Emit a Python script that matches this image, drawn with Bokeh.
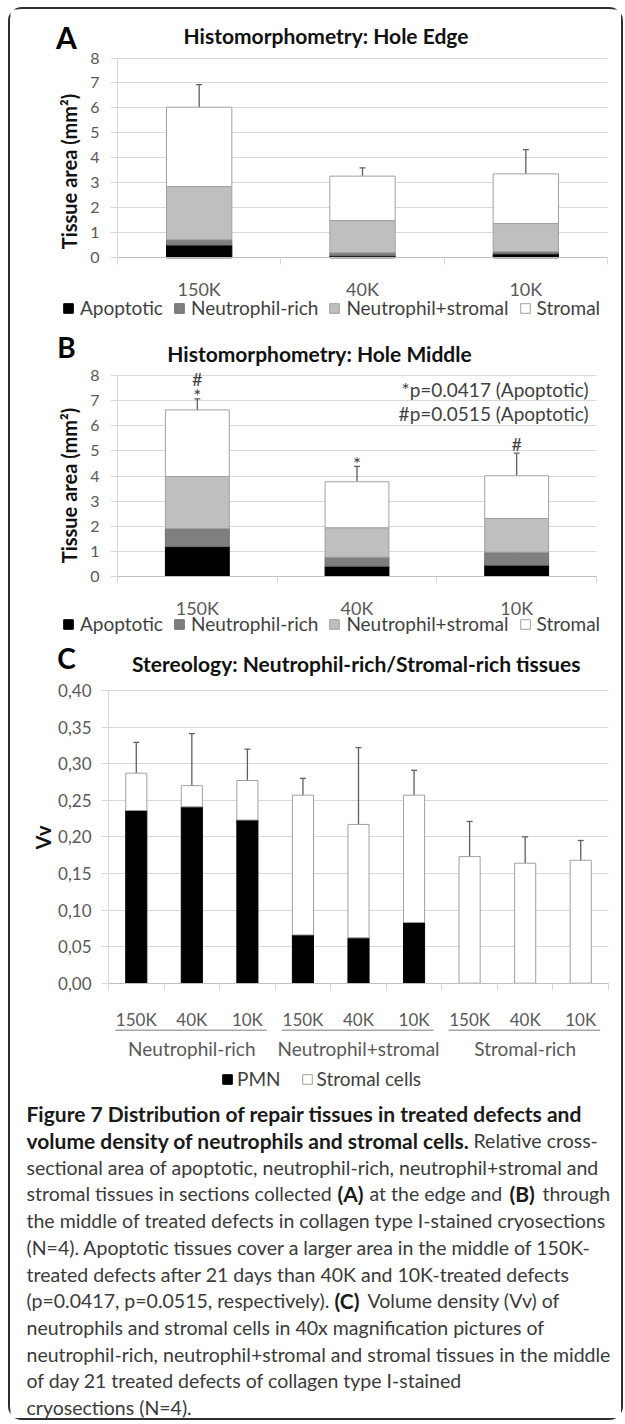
import numpy as np
from bokeh.plotting import figure
from bokeh.models import (ColumnDataSource, Range1d, FixedTicker, Whisker, TeeHead, Label,
                          CustomJSTickFormatter, LinearAxis, Grid)
from bokeh.layouts import column
from bokeh.transform import dodge
from bokeh.core.properties import value
from bokeh.embed import file_html
from bokeh.resources import INLINE

# ---------------- data ----------------
conc = ["150K", "40K", "10K"]
series = ["Apoptotic", "Neutrophil-rich", "Neutrophil+stromal", "Stromal"]
area_ticks = [0, 1, 2, 3, 4, 5, 6, 7, 8]

# (A) Hole edge, tissue area (mm2)
edge_apoptotic = [0.51, 0.08, 0.16]
edge_neutrophil_rich = [0.21, 0.12, 0.09]
edge_neutrophil_stromal = [2.13, 1.29, 1.12]
edge_stromal = [3.18, 1.78, 1.99]
edge_err_apoptotic = [0.94, 0.24, 0.33]
edge_err_neutrophil_rich = [0.36, 0.12, 0.15]
edge_err_neutrophil_stromal = [1.44, 1.56, 0.68]
edge_err_stromal = [0.90, 0.33, 0.97]

# (B) Hole middle, tissue area (mm2)
mid_apoptotic = [1.19, 0.41, 0.45]
mid_neutrophil_rich = [0.72, 0.36, 0.52]
mid_neutrophil_stromal = [2.07, 1.17, 1.34]
mid_stromal = [2.65, 1.83, 1.70]
mid_err_apoptotic = [0.48, 0.47, 0.45]
mid_err_neutrophil_rich = [0.42, 0.33, 0.62]
mid_err_neutrophil_stromal = [1.40, 0.95, 0.98]
mid_err_stromal = [0.44, 0.61, 0.90]
mid_star = ["*", "*", ""]
mid_hash = ["#", "", "#"]
p_value_notes = ["*p=0.0417 (Apoptotic)", "#p=0.0515 (Apoptotic)"]

# (C) Stereology, volume density
tissue_groups = ["Neutrophil-rich", "Neutrophil+stromal", "Stromal-rich"]
cell_series = ["PMN", "Stromal cells"]
vv_pmn = [0.236, 0.241, 0.223, 0.066, 0.062, 0.083, 0.0, 0.0, 0.0]
vv_stromal = [0.051, 0.029, 0.054, 0.191, 0.155, 0.174, 0.173, 0.164, 0.168]
vv_err_pmn = [0.048, 0.029, 0.028, 0.021, 0.054, 0.021, None, None, None]
vv_err_total = [0.042, 0.071, 0.043, 0.023, 0.105, 0.034, 0.048, 0.036, 0.027]
vv_ticks = [0.0, 0.05, 0.10, 0.15, 0.20, 0.25, 0.30, 0.35, 0.40]

caption_lines = [
    [("Figure 7 Distribution of repair tissues in treated defects and", True)],
    [("volume density of neutrophils and stromal cells.", True), ("Relative cross-", False)],
    [("sectional area of apoptotic, neutrophil-rich, neutrophil+stromal and", False)],
    [("stromal tissues in sections collected", False), ("(A)", True), ("at the edge and", False),
     ("(B)", True), ("through", False)],
    [("the middle of treated defects in collagen type I-stained cryosections", False)],
    [("(N=4). Apoptotic tissues cover a larger area in the middle of 150K-", False)],
    [("treated defects after 21 days than 40K and 10K-treated defects", False)],
    [("(p=0.0417, p=0.0515, respectively).", False), ("(C)", True), ("Volume density (Vv) of", False)],
    [("neutrophils and stromal cells in 40x magnification pictures of", False)],
    [("neutrophil-rich, neutrophil+stromal and stromal tissues in the middle", False)],
    [("of day 21 treated defects of collagen type I-stained", False)],
    [("cryosections (N=4).", False)],
]
caption_x = [[16], [16, 463], [16], [16, 327, 359, 499, 532], [16], [16], [16],
             [16, 324, 357], [16], [16], [16], [16]]

# ---------------- style ----------------
FONT = "Lato"
W = 611
GRID = "#d9d9d9"
AXIS = "#bfbfbf"
ERR = "#5f5f5f"
TICK_TXT = "#595959"
LEG_TXT = "#3f3f3f"
BAR_FILL = ["#000000", "#7f7f7f", "#bfbfbf", "#ffffff"]
BAR_LINE = ["#000000", "#6f6f6f", "#a0a0a0", "#a0a0a0"]
HAS_CROSS = "cross_bounds" in Grid.properties()


def base_figure(n, height, cl, cr, top_px, zero_px, ytop):
    cw = (cr - cl) / n
    x_lo, x_hi = -cl / cw, n + (W - cr) / cw
    k = (zero_px - top_px) / ytop
    y_hi = ytop + top_px / k
    y_lo = -(height - zero_px) / k
    p = figure(x_range=Range1d(x_lo, x_hi), y_range=Range1d(y_lo, y_hi), width=W,
               height=height, output_backend="svg", toolbar_location=None, title=None,
               min_border=0, outline_line_color=None)
    p.xgrid.visible = False
    if HAS_CROSS:
        p.ygrid.cross_bounds = (0, n)
        p.ygrid.grid_line_color = GRID
    else:
        p.ygrid.visible = False

    def dx(px):
        return (px - cl) / cw

    def dy(py):
        return y_hi - py / k
    return p, dx, dy, k


def style_yaxis(p, ticks, n, size, standoff, formatter=None):
    ya = p.yaxis[0]
    ya.fixed_location = 0
    ya.bounds = (ticks[0], ticks[-1])
    ya.ticker = FixedTicker(ticks=ticks)
    if formatter is not None:
        ya.formatter = formatter
    ya.axis_line_color = GRID
    ya.axis_line_width = 1.2
    ya.major_tick_line_color = GRID
    ya.major_tick_out = 7
    ya.major_tick_in = 0
    ya.minor_tick_line_color = None
    ya.minor_tick_out = 0
    ya.minor_tick_in = 0
    ya.major_label_standoff = standoff
    ya.major_label_text_font = FONT
    ya.major_label_text_font_size = size
    ya.major_label_text_color = TICK_TXT
    if not HAS_CROSS:
        p.segment(x0=[0] * len(ticks), y0=ticks, x1=[n] * len(ticks), y1=ticks,
                  line_color=GRID)


def style_xaxis(p, labels, size, standoff):
    n = len(labels)
    xa = p.xaxis[0]
    xa.fixed_location = 0
    xa.bounds = (0, n)
    xa.ticker = FixedTicker(ticks=[i + 0.5 for i in range(n)], minor_ticks=list(range(n + 1)))
    xa.formatter = CustomJSTickFormatter(args=dict(cats=labels),
                                         code="return cats[Math.round(tick - 0.5)];")
    xa.axis_line_color = AXIS
    xa.axis_line_width = 1.2
    xa.major_tick_line_color = None
    xa.major_tick_out = 0
    xa.major_tick_in = 0
    xa.minor_tick_line_color = GRID
    xa.minor_tick_out = 7
    xa.minor_tick_in = 0
    xa.major_label_standoff = standoff
    xa.major_label_text_font = FONT
    xa.major_label_text_font_size = size
    xa.major_label_text_color = TICK_TXT


def style_legend(lg, x, y, spacing, standoff, size):
    lg.location = (x, y)
    lg.orientation = "horizontal"
    lg.background_fill_alpha = 0
    lg.border_line_color = None
    lg.padding = 0
    lg.margin = 0
    lg.spacing = spacing
    lg.label_standoff = standoff
    lg.glyph_width = 12
    lg.glyph_height = 12
    lg.label_height = 20
    lg.label_text_font = FONT
    lg.label_text_font_size = size
    lg.label_text_color = LEG_TXT


def text_label(p, x, y, txt, size, bold=False, align="center", angle=0, color="#111111"):
    p.add_layout(Label(x=x, y=y, text=txt, text_align=align, text_baseline="middle",
                       angle=angle, angle_units="deg", text_font=FONT,
                       text_font_style="bold" if bold else "normal",
                       text_font_size=size, text_color=color))


def stacked_panel(letter, title, layers, errs, err_dodge, height, cl, cr, top_px, zero_px,
                  letter_xy, letter_size, title_xy, ylabel_xy, legend_xy,
                  star=None, hsh=None, notes=None, notes_xy=None):
    n = len(conc)
    p, dx, dy, k = base_figure(n, height, cl, cr, top_px, zero_px, area_ticks[-1])
    xc = [i + 0.5 for i in range(n)]
    keys = ["a", "b", "c", "d"]
    data = dict(x=xc, cat=conc)
    for key, arr in zip(keys, layers):
        data[key] = arr
    src = ColumnDataSource(data)
    p.vbar_stack(keys, x="x", width=0.4, source=src, fill_color=BAR_FILL,
                 line_color=BAR_LINE, line_width=1, legend_label=series)

    cum = np.cumsum(np.array(layers, dtype=float), axis=0)
    for i in range(len(layers)):
        lo = cum[i]
        hi = cum[i] + np.array(errs[i])
        es = ColumnDataSource(dict(x=xc, lower=list(lo), upper=list(hi)))
        base = dodge("x", err_dodge[i]) if err_dodge[i] else "x"
        p.add_layout(Whisker(base=base, lower="lower", upper="upper", source=es,
                             dimension="height", line_color=ERR, line_width=1.3,
                             lower_head=None,
                             upper_head=TeeHead(size=6, line_color=ERR, line_width=1.3)))
    total_top = cum[-1] + np.array(errs[-1])

    style_yaxis(p, area_ticks, n, "16px", 11)
    style_xaxis(p, conc, "18px", 13)

    if star is not None:
        sx, sy, st_txt, hx, hy, h_txt = [], [], [], [], [], []
        for x, s, h, t in zip(xc, star, hsh, total_top):
            if s:
                sx.append(x); sy.append(t + 0.12); st_txt.append(s)
            if h:
                hx.append(x); hy.append(t + (0.78 if s else 0.36)); h_txt.append(h)
        p.text(x=sx, y=sy, text=st_txt, text_align="center", text_baseline="middle",
               text_font=value(FONT), text_font_size="19px", text_color=LEG_TXT)
        p.text(x=hx, y=hy, text=h_txt, text_align="center", text_baseline="middle",
               text_font=value(FONT), text_font_size="18px", text_color=LEG_TXT)
    if notes is not None:
        for txt, (nx, ny) in zip(notes, notes_xy):
            text_label(p, dx(nx), dy(ny), txt, "19px", align="right", color=LEG_TXT)

    text_label(p, dx(letter_xy[0]), dy(letter_xy[1]), letter, letter_size, bold=True,
               color="#000000")
    text_label(p, dx(title_xy[0]), dy(title_xy[1]), title, "21px", bold=True)
    text_label(p, dx(ylabel_xy[0]), dy(ylabel_xy[1]), "Tissue area (mm²)", "20px",
               bold=True, angle=90)
    style_legend(p.legend[0], legend_xy[0], legend_xy[1], 10, 6, "19px")
    return p


pA = stacked_panel(
    "A", "Histomorphometry: Hole Edge",
    [edge_apoptotic, edge_neutrophil_rich, edge_neutrophil_stromal, edge_stromal],
    [edge_err_apoptotic, edge_err_neutrophil_rich, edge_err_neutrophil_stromal, edge_err_stromal],
    [0, 0.04, 0, 0], height=313, cl=107, cr=597, top_px=48.5, zero_px=248.3,
    letter_xy=(56, 27.7), letter_size="30px", title_xy=(315.5, 26.3), ylabel_xy=(58, 162),
    legend_xy=(52, 3))

pB = stacked_panel(
    "B", "Histomorphometry: Hole Middle",
    [mid_apoptotic, mid_neutrophil_rich, mid_neutrophil_stromal, mid_stromal],
    [mid_err_apoptotic, mid_err_neutrophil_rich, mid_err_neutrophil_stromal, mid_err_stromal],
    [0, 0, 0, 0], height=318, cl=107, cr=586, top_px=53, zero_px=254,
    letter_xy=(56, 24.7), letter_size="28px", title_xy=(309, 30.5), ylabel_xy=(58, 163),
    legend_xy=(52, 5), star=mid_star, hsh=mid_hash, notes=p_value_notes,
    notes_xy=[(578, 67.3), (578, 91.3)])

# ---------------- panel C ----------------
HC = 450
nC = len(tissue_groups) * len(conc)
pC, cdx, cdy, kC = base_figure(nC, HC, 98, 598, 50.0, 342.7, vv_ticks[-1])
sub_labels = [c for g in tissue_groups for c in conc]
grp_of = [g for g in tissue_groups for c in conc]
xC = [i + 0.5 for i in range(nC)]
srcC = ColumnDataSource(dict(x=xC, group=grp_of, conc=sub_labels, pmn=vv_pmn, strom=vv_stromal))
pC.vbar_stack(["pmn", "strom"], x="x", width=0.38, source=srcC,
              fill_color=["#000000", "#ffffff"], line_color=["#000000", "#a0a0a0"],
              line_width=1, legend_label=cell_series)
pm_x, pm_lo, pm_hi = [], [], []
for x, v, e in zip(xC, vv_pmn, vv_err_pmn):
    if e is not None:
        pm_x.append(x); pm_lo.append(v); pm_hi.append(v + e)
tot = [a + b for a, b in zip(vv_pmn, vv_stromal)]
for xs, lo, hi in [(pm_x, pm_lo, pm_hi),
                   (xC, tot, [t + e for t, e in zip(tot, vv_err_total)])]:
    es = ColumnDataSource(dict(x=xs, lower=lo, upper=hi))
    pC.add_layout(Whisker(base="x", lower="lower", upper="upper", source=es,
                          dimension="height", line_color=ERR, line_width=1.3,
                          lower_head=None,
                          upper_head=TeeHead(size=6, line_color=ERR, line_width=1.3)))

style_yaxis(pC, vv_ticks, nC, "17px", 10,
            CustomJSTickFormatter(code="return tick.toFixed(2).replace('.', ',');"))
style_xaxis(pC, sub_labels, "17px", 19)

gsize = len(conc)
gax = LinearAxis(fixed_location=0, bounds=(0, nC),
                 ticker=FixedTicker(ticks=[g * gsize + gsize / 2 for g in range(len(tissue_groups))]),
                 formatter=CustomJSTickFormatter(args=dict(groups=tissue_groups, gs=gsize),
                                                 code="return groups[Math.floor(tick / gs)];"),
                 axis_line_color=None, major_tick_line_color=None, minor_tick_line_color=None,
                 major_tick_out=0, major_tick_in=0, minor_tick_out=0, minor_tick_in=0,
                 major_label_standoff=54,
                 major_label_text_font=FONT, major_label_text_font_size="19px",
                 major_label_text_color=TICK_TXT)
pC.add_layout(gax, "below")

sep_y = -47 / kC
pC.segment(x0=[g * gsize + 0.12 for g in range(len(tissue_groups))],
           y0=[sep_y] * len(tissue_groups),
           x1=[g * gsize + 2.85 for g in range(len(tissue_groups))],
           y1=[sep_y] * len(tissue_groups),
           line_color="#a6a6a6", line_width=1.6)

text_label(pC, cdx(56), cdy(17.5), "C", "28px", bold=True, color="#000000")
text_label(pC, cdx(345.7), cdy(23), "Stereology: Neutrophil-rich/Stromal-rich tissues", "21px",
           bold=True)
text_label(pC, cdx(32), cdy(197), "Vv", "20px", bold=True, angle=90)
style_legend(pC.legend[0], 211, 0, 20, 4, "19px")

# ---------------- caption ----------------
HCAP = 328
pCap = figure(width=W, height=HCAP, x_range=Range1d(0, W), y_range=Range1d(HCAP, 0),
              x_axis_location=None, y_axis_location=None, min_border=0,
              outline_line_color=None, toolbar_location=None, output_backend="svg",
              title=None)
pCap.grid.visible = False
line_gap = 26.7
for i, (runs, xs) in enumerate(zip(caption_lines, caption_x)):
    y = 23.3 + i * line_gap
    for (txt, bold), x in zip(runs, xs):
        pCap.add_layout(Label(x=x, y=y, text=txt, text_align="left", text_baseline="middle",
                              text_font=FONT,
                              text_font_size="21px" if bold else "19.5px",
                              text_font_style="bold" if bold else "normal",
                              text_color="#1a1a1a" if bold else "#3a3a3a"))

layout = column(pA, pB, pC, pCap, spacing=0,
                styles={"border": "2px solid #2e2e2e", "border-radius": "14px",
                        "margin-left": "8px", "margin-top": "7px"})

open("out.html", "w").write(file_html(layout, INLINE))
